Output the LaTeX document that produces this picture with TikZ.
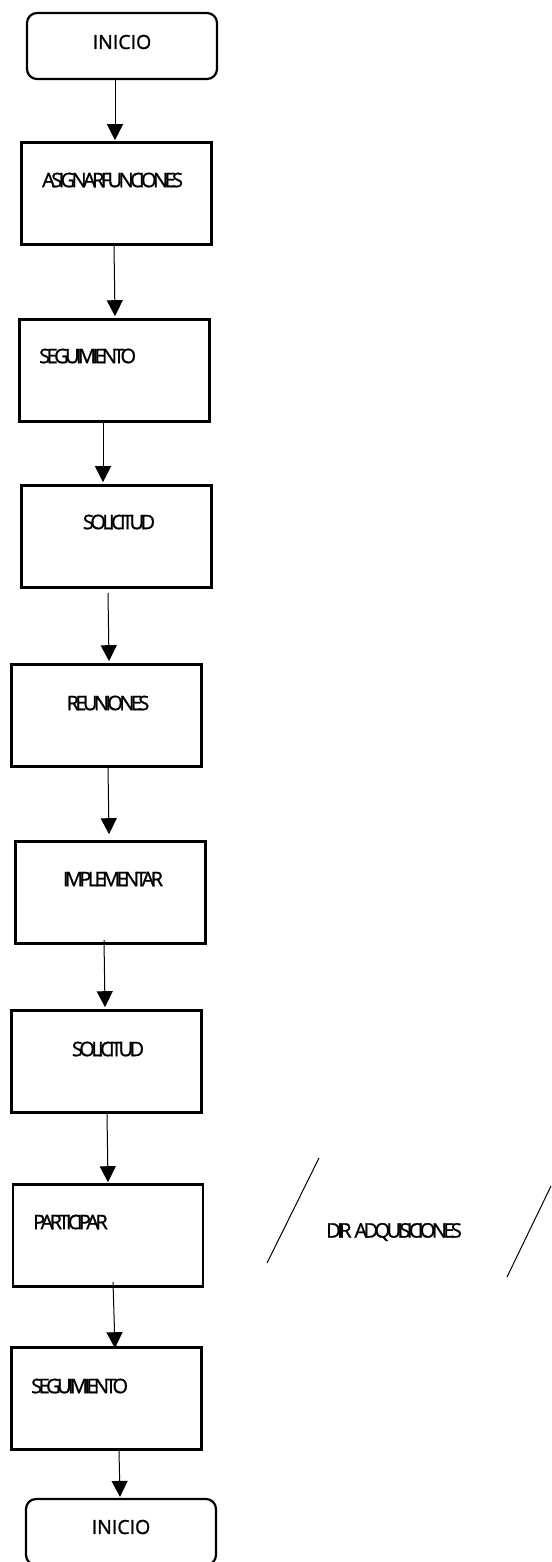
\documentclass[tikz,border=0pt]{standalone}
\usepackage{fontspec}
\setmainfont{Open Sans}[FakeBold=1.2]
\newfontfamily\termfont[FakeBold=1.2]{Open Sans}
\newfontfamily\squeezed[LetterSpace=-18,FakeBold=1.2]{Open Sans}
\usetikzlibrary{arrows.meta}
\tikzset{
  box/.style={draw, line width=2.6pt, minimum width=190pt, minimum height=102pt, inner sep=0pt},
  term/.style={draw, line width=2.2pt, rounded corners=10pt, minimum width=190pt, minimum height=66pt, inner sep=0pt},
  termtxt/.style={inner sep=0pt, font=\termfont\fontsize{19.5}{22}\selectfont},
  lbl/.style={inner sep=0pt, font=\squeezed\fontsize{20}{22}\selectfont},
  arr/.style={line width=1pt, -{Triangle[length=16pt,width=16pt]}},
  slash/.style={line width=1pt}
}
\begin{document}
\begin{tikzpicture}[x=1pt,y=-1pt]
\path[use as bounding box] (0,0) rectangle (551,1562);
% terminals
\node[term] (ini) at (122,46) {};
\node[termtxt] (ti) at (122,42) {INICIO};
\node[term] (fin) at (121,1532) {};
\node[termtxt] (tf) at (121,1527) {INICIO};
% boxes
\node[box] (b1) at (116.5,193.5) {};
\node[box] (b2) at (114.5,370.5) {};
\node[box] (b3) at (116.5,536.5) {};
\node[box] (b4) at (106.5,715.5) {};
\node[box] (b5) at (110.5,892.5) {};
\node[box] (b6) at (106.5,1061.5) {};
\node[box] (b7) at (108,1235.5) {};
\node[box] (b8) at (106.5,1398.5) {};
% labels
\node[lbl, anchor=west] (t1) at (42,180) {ASIGNARFUNCIONES};
\node[lbl, anchor=west] (t2) at (39,356) {SEGUIMIENTO};
\node[lbl] (t3) at (119,522) {SOLICITUD};
\node[lbl] (t4) at (108,703) {REUNIONES};
\node[lbl] (t5) at (113,879) {IMPLEMENTAR};
\node[lbl] (t6) at (108,1049) {SOLICITUD};
\node[lbl, anchor=west] (t7) at (33,1222) {PARTICIPAR};
\node[lbl, anchor=west] (t8) at (31,1386) {SEGUIMIENTO};
\node[lbl, anchor=west] (t9) at (326,1232) {DIR\hspace{3pt}ADQUISICIONES};
% slanted side lines
\coordinate (s1a) at (319,1158);
\coordinate (s1b) at (267,1263);
\coordinate (s2a) at (551,1186);
\coordinate (s2b) at (507,1277);
\draw[slash] (s1a) -- (s1b);
\draw[slash] (s2a) -- (s2b);
% connectors
\draw[arr] ([xshift=-7pt]ini.south) -- ([xshift=-1.5pt,yshift=1pt]b1.north);
\draw[arr] ([xshift=-2.5pt]b1.south) -- ([xshift=0.5pt,yshift=2pt]b2.north);
\draw[arr] ([xshift=-11.5pt]b2.south) -- ([xshift=-13.5pt,yshift=2pt]b3.north);
\draw[arr] ([xshift=-8.5pt,yshift=-4pt]b3.south) -- ([xshift=2.5pt,yshift=2pt]b4.north);
\draw[arr] ([xshift=1.5pt]b4.south) -- ([xshift=-1.5pt,yshift=6pt]b5.north);
\draw[arr] ([xshift=-6.5pt,yshift=5pt]b5.south) -- ([xshift=-1.5pt,yshift=2pt]b6.north);
\draw[arr] ([xshift=0.5pt]b6.south) -- ([xshift=0pt,yshift=1pt]b7.north);
\draw[arr] ([xshift=5pt,yshift=6pt]b7.south) -- ([xshift=8.5pt,yshift=-2pt]b8.north);
\draw[arr] ([xshift=12.5pt]b8.south) -- ([xshift=-1pt,yshift=1pt]fin.north);
\end{tikzpicture}
\end{document}
